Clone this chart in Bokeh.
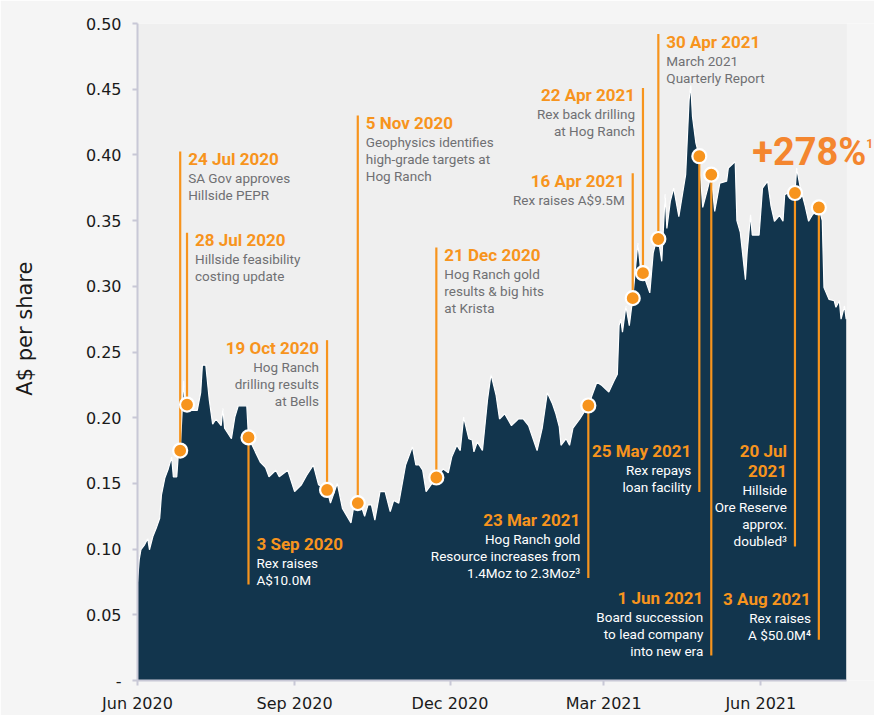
import pandas as pd
from bokeh.plotting import figure
from bokeh.models import ColumnDataSource, FixedTicker, Range1d, Label, DatetimeTickFormatter, BoxAnnotation
from bokeh.core.properties import value
from bokeh.embed import file_html
from bokeh.resources import INLINE

# ---------------- data ----------------
price_dates = [
    "2020-06-01", "2020-06-02", "2020-06-03", "2020-06-05", "2020-06-07", "2020-06-08", "2020-06-10",
    "2020-06-12", "2020-06-14", "2020-06-15", "2020-06-17", "2020-06-19", "2020-06-21", "2020-06-22",
    "2020-06-24", "2020-06-25", "2020-06-26", "2020-06-28", "2020-06-29", "2020-06-30", "2020-07-03",
    "2020-07-06", "2020-07-08", "2020-07-09", "2020-07-11", "2020-07-13", "2020-07-15", "2020-07-17",
    "2020-07-20", "2020-07-21", "2020-07-22", "2020-07-26", "2020-07-28", "2020-07-30", "2020-08-04",
    "2020-08-05", "2020-08-09", "2020-08-12", "2020-08-15", "2020-08-17", "2020-08-21", "2020-08-23",
    "2020-08-28", "2020-09-01", "2020-09-05", "2020-09-08", "2020-09-12", "2020-09-15", "2020-09-20",
    "2020-09-22", "2020-09-26", "2020-09-29", "2020-10-04", "2020-10-06", "2020-10-08", "2020-10-10",
    "2020-10-12", "2020-10-14", "2020-10-16", "2020-10-18", "2020-10-21", "2020-10-24", "2020-10-27",
    "2020-10-29", "2020-11-01", "2020-11-05", "2020-11-09", "2020-11-11", "2020-11-13", "2020-11-15",
    "2020-11-17", "2020-11-23", "2020-11-27", "2020-11-30", "2020-12-02", "2020-12-05", "2020-12-07",
    "2020-12-09", "2020-12-12", "2020-12-14", "2020-12-15", "2020-12-17", "2020-12-20", "2020-12-23",
    "2020-12-25", "2020-12-28", "2020-12-30", "2021-01-02", "2021-01-06", "2021-01-10", "2021-01-13",
    "2021-01-16", "2021-01-21", "2021-01-24", "2021-01-27", "2021-01-30", "2021-02-01", "2021-02-03",
    "2021-02-04", "2021-02-07", "2021-02-09", "2021-02-11", "2021-02-15", "2021-02-20", "2021-02-25",
    "2021-02-28", "2021-03-04", "2021-03-07", "2021-03-09", "2021-03-10", "2021-03-11", "2021-03-12",
    "2021-03-14", "2021-03-16", "2021-03-18", "2021-03-19", "2021-03-21", "2021-03-23", "2021-03-24",
    "2021-03-28", "2021-03-30", "2021-04-01", "2021-04-02", "2021-04-04", "2021-04-06", "2021-04-07",
    "2021-04-09", "2021-04-11", "2021-04-14", "2021-04-18", "2021-04-20", "2021-04-21", "2021-04-22",
    "2021-04-24", "2021-04-26", "2021-04-28", "2021-04-30", "2021-05-03", "2021-05-05", "2021-05-08",
    "2021-05-12", "2021-05-13", "2021-05-17", "2021-05-18", "2021-05-20", "2021-05-23", "2021-05-24",
    "2021-05-26", "2021-05-27", "2021-05-31", "2021-06-02", "2021-06-05", "2021-06-07", "2021-06-09",
    "2021-06-12", "2021-06-14", "2021-06-15", "2021-06-18", "2021-06-21", "2021-06-22", "2021-06-24",
    "2021-06-27", "2021-06-29", "2021-07-01", "2021-07-05", "2021-07-07", "2021-07-08", "2021-07-11",
    "2021-07-14", "2021-07-15", "2021-07-17", "2021-07-18", "2021-07-20", "2021-07-21",
]
price_values = [
    0.075, 0.092, 0.0995, 0.103, 0.108, 0.0995, 0.1096,
    0.116, 0.1235, 0.141, 0.154, 0.161, 0.170, 0.155,
    0.155, 0.174, 0.175, 0.228, 0.209, 0.210, 0.2055,
    0.2055, 0.219, 0.240, 0.240, 0.214, 0.195, 0.199,
    0.194, 0.207, 0.192, 0.184, 0.2005, 0.209, 0.209,
    0.185, 0.174, 0.166, 0.162, 0.155, 0.160, 0.155,
    0.160, 0.1437, 0.149, 0.156, 0.164, 0.149, 0.145,
    0.135, 0.150, 0.131, 0.120, 0.135, 0.135, 0.133,
    0.125, 0.1336, 0.1336, 0.122, 0.1437, 0.1437, 0.1285,
    0.137, 0.135, 0.164, 0.178, 0.164, 0.164, 0.160,
    0.1437, 0.1545, 0.161, 0.158, 0.170, 0.179, 0.175,
    0.2005, 0.184, 0.183, 0.174, 0.1816, 0.175, 0.214,
    0.233, 0.217, 0.199, 0.203, 0.194, 0.199, 0.199,
    0.194, 0.175, 0.192, 0.219, 0.2106, 0.203, 0.193,
    0.179, 0.184, 0.179, 0.192, 0.199, 0.2093, 0.227,
    0.2245, 0.2195, 0.228, 0.233, 0.270, 0.275, 0.265,
    0.285, 0.270, 0.291, 0.305, 0.333, 0.308, 0.310,
    0.295, 0.3255, 0.3356, 0.336, 0.319, 0.370, 0.344,
    0.3646, 0.3747, 0.353, 0.385, 0.4417, 0.453, 0.429,
    0.409, 0.399, 0.360, 0.370, 0.385, 0.357, 0.3785,
    0.380, 0.390, 0.395, 0.350, 0.341, 0.305, 0.3255,
    0.3545, 0.339, 0.339, 0.3747, 0.380, 0.361, 0.3495,
    0.354, 0.3495, 0.3697, 0.372, 0.371, 0.390, 0.376,
    0.361, 0.3495, 0.354, 0.360, 0.350, 0.299, 0.290,
    0.289, 0.284, 0.289, 0.275, 0.285, 0.275,
]

event_titles = [
    "24 Jul 2020", "28 Jul 2020", "3 Sep 2020", "19 Oct 2020", "5 Nov 2020", "21 Dec 2020",
    "23 Mar 2021", "16 Apr 2021", "22 Apr 2021", "30 Apr 2021", "25 May 2021", "1 Jun 2021",
    "20 Jul\n2021", "3 Aug 2021",
]
event_notes = [
    ["SA Gov approves", "Hillside PEPR"],
    ["Hillside feasibility", "costing update"],
    ["Rex raises", "A$10.0M"],
    ["Hog Ranch", "drilling results", "at Bells"],
    ["Geophysics identifies", "high-grade targets at", "Hog Ranch"],
    ["Hog Ranch gold", "results & big hits", "at Krista"],
    ["Hog Ranch gold", "Resource increases from", "1.4Moz to 2.3Moz³"],
    ["Rex raises A$9.5M"],
    ["Rex back drilling", "at Hog Ranch"],
    ["March 2021", "Quarterly Report"],
    ["Rex repays", "loan facility"],
    ["Board succession", "to lead company", "into new era"],
    ["Hillside", "Ore Reserve", "approx.", "doubled³"],
    ["Rex raises", "A $50.0M⁴"],
]
event_dates = [
    "2020-06-26", "2020-06-30", "2020-08-05", "2020-09-20", "2020-10-08", "2020-11-23",
    "2021-02-20", "2021-03-18", "2021-03-24", "2021-04-02", "2021-04-26", "2021-05-03",
    "2021-06-21", "2021-07-05",
]
event_prices = [
    0.175, 0.210, 0.185, 0.145, 0.135, 0.1545,
    0.2093, 0.291, 0.310, 0.336, 0.399, 0.385,
    0.371, 0.360,
]
event_line_ends = [
    0.4025, 0.3407, 0.073, 0.259, 0.430, 0.3295,
    0.078, 0.386, 0.451, 0.492, 0.1435, 0.019,
    0.102, 0.031,
]
event_sides = [
    "right", "right", "right", "left", "right", "right",
    "left", "left", "left", "right", "left", "left",
    "left", "left",
]

gain_text = "+278%"
gain_note = "1"
gain_date = "2021-05-27"
gain_level = 0.402

y_ticks = [0.0, 0.05, 0.10, 0.15, 0.20, 0.25, 0.30, 0.35, 0.40, 0.45, 0.50]
y_tick_labels = ["-", "0.05", "0.10", "0.15", "0.20", "0.25", "0.30", "0.35", "0.40", "0.45", "0.50"]
x_tick_dates = ["2020-06-01", "2020-09-01", "2020-12-01", "2021-03-01", "2021-06-01"]
x_tick_labels = ["Jun 2020", "Sep 2020", "Dec 2020", "Mar 2021", "Jun 2021"]
x_start = "2020-06-01"
panel_end = "2021-07-21 09:00"
x_end = "2021-08-06 14:00"

# ---------------- styles ----------------
NAVY = "#12354d"
ORANGE = "#f7941d"
GAIN = "#f4862f"
GREY_TXT = "#6f7073"
PANEL = "#efefef"
PAGE = "#f5f5f5"
AXIS = "#c8c8d6"


def ms(s):
    return pd.Timestamp(s).value / 1e6


p = figure(
    width=874, height=715, x_axis_type="datetime",
    x_range=Range1d(ms(x_start), ms(x_end)), y_range=Range1d(0, 0.5),
    output_backend="svg", toolbar_location=None,
    min_border_left=137, min_border_right=0, min_border_top=23, min_border_bottom=32,
    background_fill_color=PAGE, border_fill_color=PAGE,
)
p.outline_line_color = None
p.grid.visible = False

p.add_layout(BoxAnnotation(left=ms(x_start), right=ms(panel_end), bottom=0, top=0.5,
                           fill_color=PANEL, fill_alpha=1, line_color=None, level="underlay"))

price_src = ColumnDataSource(dict(date=pd.to_datetime(price_dates), price=price_values))
p.varea(x="date", y1=0, y2="price", source=price_src, fill_color=NAVY)
p.line(x="date", y="price", source=price_src, line_color="white", line_width=1.2)

ev_src = ColumnDataSource(dict(date=pd.to_datetime(event_dates), price=event_prices, end=event_line_ends))
p.segment(x0="date", y0="price", x1="date", y1="end", source=ev_src, line_color=ORANGE, line_width=2.2)
p.scatter(x="date", y="price", source=ev_src, size=14, fill_color=ORANGE, line_color="white", line_width=2.2)

# annotation text rows
t_rows = dict(x=[], y=[], text=[], xoff=[], yoff=[], align=[])
n_rows = dict(x=[], y=[], text=[], xoff=[], yoff=[], align=[], color=[])
for i, title in enumerate(event_titles):
    d = pd.Timestamp(event_dates[i])
    titles = title.split("\n")
    notes = event_notes[i]
    up = event_line_ends[i] > event_prices[i]
    if up:
        t_offs = [7.5 + 20.5 * j for j in range(len(titles))]
        n_offs = [t_offs[-1] + 19 + 17 * j for j in range(len(notes))]
        note_col = GREY_TXT
    else:
        n_offs = [-5 - 17 * (len(notes) - 1 - j) for j in range(len(notes))]
        t_offs = [n_offs[0] - 19 - 20.5 * (len(titles) - 1 - j) for j in range(len(titles))]
        note_col = "white"
    xo = 8 if event_sides[i] == "right" else -8
    al = "left" if event_sides[i] == "right" else "right"
    for t, o in zip(titles, t_offs):
        t_rows["x"].append(d); t_rows["y"].append(event_line_ends[i]); t_rows["text"].append(t)
        t_rows["xoff"].append(xo); t_rows["yoff"].append(o); t_rows["align"].append(al)
    for t, o in zip(notes, n_offs):
        n_rows["x"].append(d); n_rows["y"].append(event_line_ends[i]); n_rows["text"].append(t)
        n_rows["xoff"].append(xo); n_rows["yoff"].append(o); n_rows["align"].append(al)
        n_rows["color"].append(note_col)

p.text(x="x", y="y", text="text", x_offset="xoff", y_offset="yoff", text_align="align",
       source=ColumnDataSource(t_rows), text_baseline="middle", text_font=value("Roboto"),
       text_font_size="17px", text_font_style="bold", text_color=ORANGE)
p.text(x="x", y="y", text="text", x_offset="xoff", y_offset="yoff", text_align="align",
       source=ColumnDataSource(n_rows), text_baseline="middle", text_font=value("Roboto"),
       text_font_size="13.5px", text_color="color")

gx = ms(gain_date)
p.add_layout(Label(x=gx, y=gain_level, text=gain_text, text_font="Roboto", text_font_size="38px",
                   text_font_style="bold", text_color=GAIN, text_baseline="middle"))
p.add_layout(Label(x=gx, y=gain_level, x_offset=114, y_offset=9, text=gain_note, text_font="Roboto",
                   text_font_size="12px", text_font_style="bold", text_color=GAIN,
                   text_baseline="middle"))

# axes
p.yaxis.ticker = FixedTicker(ticks=y_ticks)
p.yaxis.major_label_overrides = {t: l for t, l in zip(y_ticks, y_tick_labels)}
p.xaxis.ticker = FixedTicker(ticks=[ms(d) for d in x_tick_dates])
p.xaxis.major_label_overrides = {ms(d): l for d, l in zip(x_tick_dates, x_tick_labels)}
p.xaxis.formatter = DatetimeTickFormatter(months="%b %Y", days="%b %Y")
p.xaxis.bounds = (ms(x_start), ms(panel_end))
for ax in (p.xaxis, p.yaxis):
    ax.axis_line_color = AXIS
    ax.axis_line_width = 2
    ax.major_tick_line_color = AXIS
    ax.major_tick_line_width = 2
    ax.major_tick_in = 0
    ax.major_tick_out = 5
    ax.minor_tick_line_color = None
    ax.major_label_text_font = "DejaVu Sans"
    ax.major_label_text_font_size = "16px"
    ax.major_label_text_color = "#1a1a1a"
p.yaxis.major_label_standoff = 11
p.xaxis.major_label_standoff = 8
p.yaxis.axis_label = "\u00a0" * 7 + "A$ per share"
p.yaxis.axis_label_text_font = "DejaVu Sans"
p.yaxis.axis_label_text_font_size = "21px"
p.yaxis.axis_label_text_font_style = "normal"
p.yaxis.axis_label_text_color = "#1a1a1a"
p.yaxis.axis_label_standoff = 46

html = file_html(p, INLINE)
html = html.replace("<body>", '<body style="background:#f5f5f5">', 1)
open("out.html", "w").write(html)
